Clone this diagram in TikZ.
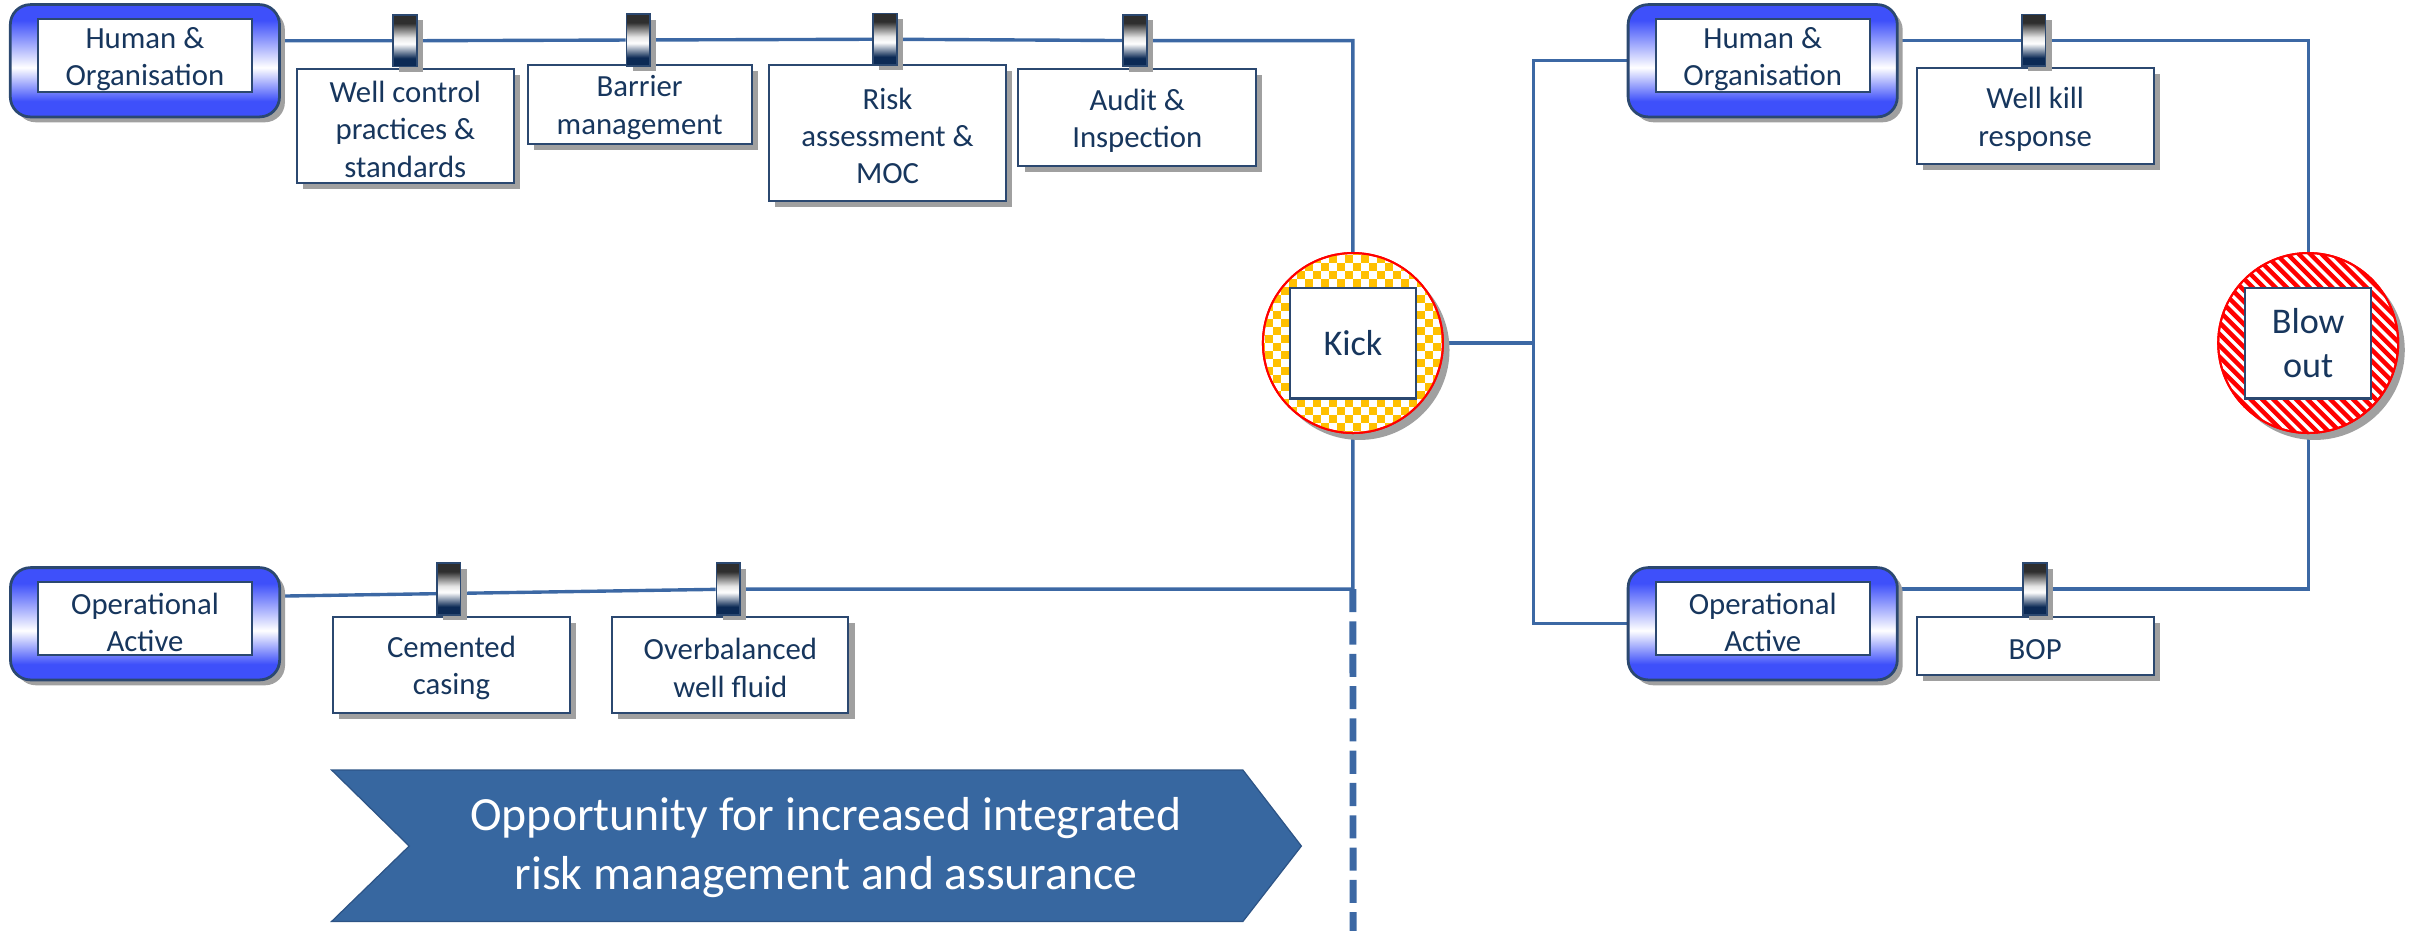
\documentclass[tikz,border=0pt]{standalone}
\usepackage{fontspec}
\setmainfont{Carlito}
\usetikzlibrary{shadows,backgrounds,calc}

\definecolor{txtnavy}{RGB}{23,54,93}
\definecolor{wirec}{RGB}{60,104,164}
\definecolor{edgenavy}{RGB}{43,72,112}
\definecolor{grpblue}{RGB}{62,80,250}
\definecolor{hangtop}{RGB}{46,46,46}
\definecolor{hangbot}{RGB}{12,42,85}
\definecolor{shadowgray}{RGB}{160,160,160}
\definecolor{kickorange}{RGB}{255,192,0}
\definecolor{chevfill}{RGB}{55,103,160}
\definecolor{chevedge}{RGB}{45,84,134}

% blue-white-blue band for the threat group boxes (0bp = bottom)
\pgfdeclareverticalshading{grpshade}{100bp}{color(0bp)=(grpblue); color(32bp)=(grpblue); color(47bp)=(white); color(68bp)=(grpblue); color(100bp)=(grpblue)}
% metallic clip joining a barrier to its line
\pgfdeclareverticalshading{hangshade}{100bp}{color(0bp)=(hangbot); color(33bp)=(hangbot); color(47bp)=(white); color(53bp)=(white!80!gray); color(67bp)=(hangtop); color(100bp)=(hangtop)}

\tikzset{
  wire/.style={draw=wirec, line width=2.2pt},
  sep/.style={draw=wirec, line width=4.5pt, dash pattern=on 15pt off 6pt},
  boxtext/.style={text=txtnavy, align=center, inner sep=0pt,
    font=\fontsize{20}{24.3}\selectfont},
  grpbox/.style={rounded corners=13pt, draw=edgenavy, line width=1.8pt, shading=grpshade,
    minimum width=175pt, minimum height=73pt, inner sep=0pt,
    drop shadow={shadow xshift=3.5pt, shadow yshift=-3.5pt, fill=shadowgray, opacity=1}},
  lblbox/.style={draw=edgenavy, fill=white, line width=1.3pt, minimum width=139pt,
    minimum height=47pt, inner sep=0pt,
    label={[boxtext, yshift=-2.5pt]center:{#1}}},
  hanger/.style={draw=edgenavy, line width=1.2pt, shading=hangshade,
    minimum width=15.5pt, minimum height=33.5pt, inner sep=0pt,
    drop shadow={shadow xshift=4pt, shadow yshift=-3.5pt, fill=shadowgray, opacity=1}},
  barbox/.style={draw=edgenavy, fill=white, line width=1.3pt, inner sep=0pt,
    drop shadow={shadow xshift=4pt, shadow yshift=-4pt, fill=shadowgray, opacity=1},
    label={[boxtext, yshift=-2pt]center:{#1}}},
  eventring/.style={circle, draw=red, line width=1.3pt, fill=white, minimum size=117pt,
    inner sep=0pt,
    drop shadow={shadow xshift=4.3pt, shadow yshift=-4.5pt, fill=shadowgray, opacity=1}},
  eventbox/.style={draw=edgenavy, fill=white, line width=1.5pt, minimum width=82pt,
    minimum height=72pt, inner sep=0pt, align=center, text=txtnavy,
    font=\fontsize{23.5}{28.5}\selectfont},
}

\begin{document}
\begin{tikzpicture}[x=1pt, y=-1pt]
\useasboundingbox (0,0) rectangle (1568,605);

% ---------- threat groups ----------
\node[grpbox] (hoL) at (94.2,39.5) {};
\node[lblbox={Human \&\\Organisation}] (hoLt) at ($(hoL)+(0,-3.5)$) {};
\node[grpbox] (opL) at (94.3,405.5) {};
\node[lblbox={Operational\\Active}] (opLt) at ($(opL)+(0,-3.5)$) {};
\node[grpbox] (hoR) at (1145.9,39.5) {};
\node[lblbox={Human \&\\Organisation}] (hoRt) at ($(hoR)+(0,-3.5)$) {};
\node[grpbox] (opR) at (1145.9,405.5) {};
\node[lblbox={Operational\\Active}] (opRt) at ($(opR)+(0,-3.5)$) {};

% ---------- barriers ----------
\node[barbox={Well control\\practices \&\\standards}, minimum width=141pt, minimum height=74pt] (wc) at (263.5,82) {};
\node[barbox={Barrier\\management}, minimum width=145.5pt, minimum height=51.6pt] (bm) at (415.8,67.8) {};
\node[barbox={Risk\\assessment \&\\MOC}, minimum width=154pt, minimum height=88.7pt] (ra) at (577,86.3) {};
\node[barbox={Audit \&\\Inspection}, minimum width=154.5pt, minimum height=63pt] (au) at (739.3,76.5) {};
\node[barbox={Well kill\\response}, minimum width=154pt, minimum height=62.4pt] (wk) at (1323,75.6) {};
\node[barbox={BOP}, minimum width=154pt, minimum height=37.8pt] (bop) at (1323,420) {};
\node[barbox={Cemented\\casing}, minimum width=154pt, minimum height=62.7pt] (cc) at (293.5,432.3) {};
\node[barbox={Overbalanced\\well fluid}, minimum width=153.5pt, minimum height=62.7pt] (ob) at (474.8,432.3) {};

% ---------- events ----------
\node[eventring] (kick) at (879.5,223) {};
\begin{scope}
  \clip (kick.center) circle (58.5pt);
  \foreach \i in {-12,-10,...,10} {
    \foreach \j in {-12,-10,...,10} {
      \fill[kickorange] ([shift={(\i*5.2,\j*5.2)}]kick.center) rectangle +(5.2,5.2);
      \fill[kickorange] ([shift={(\i*5.2+5.2,\j*5.2+5.2)}]kick.center) rectangle +(5.2,5.2);
    }
  }
\end{scope}
\draw[red, line width=1.3pt] (kick.center) circle (58.5pt);
\node[eventbox] (kickt) at (kick.center) {Kick};

\node[eventring] (blow) at (1500.5,223) {};
\begin{scope}
  \clip (blow.center) circle (58.5pt);
  \foreach \k in {-14,...,14} {
    \draw[red, line width=2.9pt] ([shift={(\k*7.4-100,-100)}]blow.center) -- ++(200,200);
  }
\end{scope}
\draw[red, line width=1.3pt] (blow.center) circle (58.5pt);
\node[eventbox] (blowt) at (blow.center) {Blow\\out};

% ---------- clips on the lines ----------
\node[hanger] (h1) at (263.3,26.5) {};
\node[hanger] (h2) at (415,26) {};
\node[hanger] (h3) at (575.3,25.5) {};
\node[hanger] (h4) at (738,26.4) {};
\node[hanger] (hR1) at (1322,26.2) {};
\node[hanger] (hR2) at (1323,383) {};
\node[hanger] (hL1) at (291.6,383) {};
\node[hanger] (hL2) at (473.5,383) {};

% ---------- connectors ----------
\coordinate (jn) at (997,223);
\coordinate (oL) at ($(opL.east)+(0,-18)$);
\coordinate (sepEnd) at (879.6,606);
\begin{pgfonlayer}{background}
  \draw[wire] (hoL.east |- h1) -- (h1) -- (h2) -- (h3) -- (h4) -| (kick.north);
  \draw[wire] (oL) -- (hL2) -| (kick.south);
  \draw[wire] (kick.east) -- (jn);
  \draw[wire] (hoR.west) -| (jn);
  \draw[wire] (opR.west) -| (jn);
  \draw[wire] (hoR.east |- hR1) -- (hR1) -| (blow.north);
  \draw[wire] (opR.east |- hR2) -- (hR2) -| (blow.south);
\end{pgfonlayer}
\draw[sep] (kick.south |- hL2) -- (sepEnd);

% ---------- opportunity chevron ----------
\fill[chevfill, draw=chevedge, line width=0.8pt]
  (215.6,500.6) -- (808,500.6) -- (846,550) -- (808,599) -- (215.6,599) -- (266,550) -- cycle;
\node[text=white, align=center, font=\fontsize{31}{38.5}\selectfont] (opp) at (537,551)
  {Opportunity for increased integrated\\risk management and assurance};
\end{tikzpicture}
\end{document}
